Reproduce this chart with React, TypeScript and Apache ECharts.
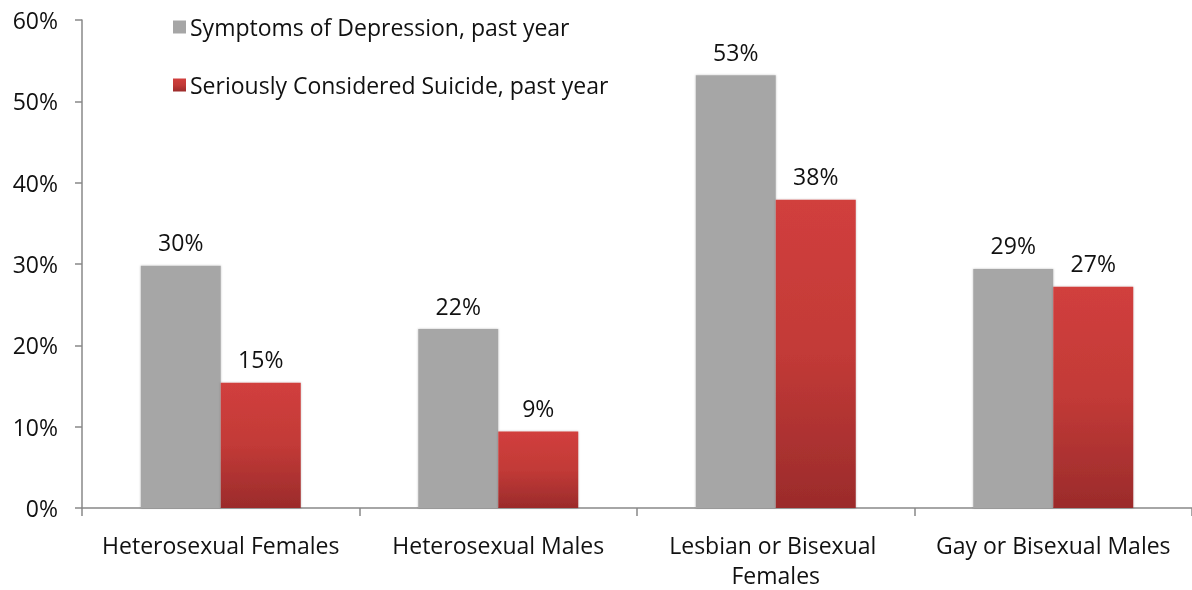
import React, { useEffect, useRef } from "react";
import * as echarts from "echarts";

const categories = ["Heterosexual Females", "Heterosexual Males", "Lesbian or Bisexual Females", "Gay or Bisexual Males"];
const depression = [29.8, 22.0, 53.2, 29.4];
const suicide = [15.4, 9.4, 37.9, 27.2];
const seriesNames = ["Symptoms of Depression, past year", "Seriously Considered Suicide, past year"];
const yTicks = [0, 10, 20, 30, 40, 50, 60];

const FONT = "Open Sans";
const FS = 23;

export default function App() {
  const ref = useRef<HTMLDivElement>(null);
  useEffect(() => {
    const chart = echarts.init(ref.current!, null, { renderer: "svg" });
    const redGrad = new echarts.graphic.LinearGradient(0, 0, 0, 1, [
      { offset: 0, color: "#d13f3d" },
      { offset: 0.5, color: "#c23a37" },
      { offset: 1, color: "#9b2b2b" },
    ]);
    const label = {
      show: true,
      position: "top",
      distance: 12,
      fontFamily: FONT,
      fontSize: FS,
      color: "#111",
      formatter: (p: any) => Math.round(p.value) + "%",
    };
    chart.setOption({
      animation: false,
      textStyle: { fontFamily: FONT },
      grid: { left: 82, right: 0, top: 20, bottom: 78 },
      legend: {
        orient: "vertical",
        left: 168,
        top: 8,
        itemGap: 30,
        itemWidth: 13,
        itemHeight: 13,
        icon: "rect",
        textStyle: { fontFamily: FONT, fontSize: FS, lineHeight: 28, color: "#111", padding: [0, 0, 0, -1] },
        data: seriesNames,
      },
      xAxis: {
        type: "category",
        data: categories,
        boundaryGap: true,
        axisLine: { lineStyle: { color: "#888", width: 1.5 } },
        axisTick: { show: true, length: 8, lineStyle: { color: "#888", width: 1.5 } },
        axisLabel: {
          interval: 0,
          margin: 22,
          fontFamily: FONT,
          fontSize: FS,
          color: "#111",
          width: 265,
          overflow: "break",
          lineHeight: 30,
        },
      },
      yAxis: {
        type: "value",
        min: yTicks[0],
        max: yTicks[yTicks.length - 1],
        interval: 10,
        splitLine: { show: false },
        axisLine: { show: true, lineStyle: { color: "#888", width: 1.5 } },
        axisTick: { show: true, length: 7, lineStyle: { color: "#888", width: 1.5 } },
        axisLabel: {
          margin: 24,
          fontFamily: FONT,
          fontSize: FS,
          color: "#111",
          formatter: (v: number) => v + "%",
        },
      },
      series: [
        {
          name: seriesNames[0],
          type: "bar",
          data: depression,
          barWidth: 80,
          barGap: "0%",
          itemStyle: { color: "#a6a6a6", shadowColor: "rgba(0,0,0,0.25)", shadowBlur: 2 },
          label,
        },
        {
          name: seriesNames[1],
          type: "bar",
          data: suicide,
          barWidth: 80,
          barGap: "0%",
          itemStyle: { color: redGrad, shadowColor: "rgba(0,0,0,0.25)", shadowBlur: 2 },
          label,
        },
      ],
    });
    return () => chart.dispose();
  }, []);
  return <div ref={ref} style={{ position: "fixed", left: 0, top: 0, width: 1192, height: 590 }} />;
}
